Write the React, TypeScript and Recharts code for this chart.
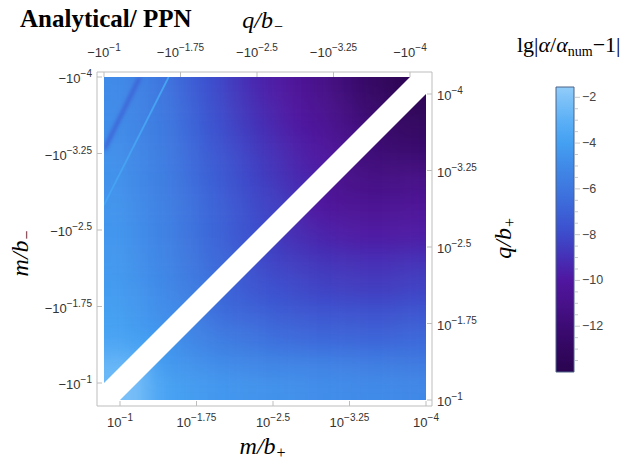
import React from "react";
import { ScatterChart, Scatter, XAxis, YAxis, BarChart, Bar } from "recharts";

// exponents on the four frame axes (labels read as ±10^-e)
const EXP_TICKS = [1, 1.75, 2.5, 3.25, 4];

// lg|α/α_num − 1| on a 12×12 grid for each half.
// upper-left half (q/b− along the top, m/b− up the left): rows from the top, columns from the left edge
const UPPER_ROWS = [
  [-5.0, -5.5, -6.2, -7.2, -8.1, -9.0, -9.7, -10.3, -11.0, -11.9, -12.8, -13.6],
  [-4.9, -5.4, -6.0, -7.0, -7.9, -8.7, -9.4, -10.0, -10.6, -11.4, -12.3],
  [-4.8, -5.3, -5.9, -6.8, -7.7, -8.4, -9.1, -9.7, -10.2, -10.9],
  [-4.7, -5.2, -5.8, -6.6, -7.4, -8.1, -8.8, -9.4, -9.9],
  [-4.6, -5.1, -5.7, -6.4, -7.2, -7.9, -8.5, -9.1],
  [-4.5, -5.0, -5.6, -6.3, -7.0, -7.7, -8.3],
  [-4.4, -4.9, -5.5, -6.2, -6.9, -7.6],
  [-4.3, -4.8, -5.3, -6.0, -6.7],
  [-4.2, -4.6, -5.1, -5.7],
  [-4.0, -4.4, -4.9],
  [-3.6, -4.0],
  [-2.6],
];
// lower-right half (m/b+ along the bottom, q/b+ up the right): rows from the top, columns ending at the right edge
const LOWER_ROWS = [
  [-13.5],
  [-12.6, -12.8],
  [-11.7, -11.9, -12.0],
  [-10.8, -11.1, -11.2, -11.0],
  [-9.9, -10.3, -10.5, -10.5, -10.3],
  [-9.0, -9.4, -9.7, -9.9, -9.9, -9.8],
  [-8.1, -8.5, -8.8, -9.0, -9.1, -9.1, -9.0],
  [-7.2, -7.7, -8.0, -8.3, -8.5, -8.6, -8.6, -8.4],
  [-6.3, -6.8, -7.1, -7.4, -7.6, -7.7, -7.8, -7.8, -7.6],
  [-5.1, -5.6, -6.0, -6.3, -6.6, -6.8, -6.9, -7.0, -7.0, -6.8],
  [-4.2, -4.6, -4.9, -5.1, -5.3, -5.4, -5.5, -5.6, -5.7, -5.8, -5.9],
  [-2.2, -3.6, -4.1, -4.3, -4.5, -4.6, -4.7, -4.8, -4.9, -5.0, -5.0, -5.1],
];

// two thin ridges in the upper-left corner (end points in q, m exponents) and their level
const LIGHT_RIDGE = [{ x: 1, y: 2.745 }, { x: 1.634, y: 4 }];
const LIGHT_RIDGE_LEVEL = -3.9;
const DARK_RIDGE = [{ x: 1, y: 3.284 }, { x: 1.353, y: 4 }];
const DARK_RIDGE_LEVEL = -7.4;

// colour bar
const BAR_RANGE = [-14, -1.55];
const BAR_LABELS = [-12, -10, -8, -6, -4, -2];
const BAR_MINOR = [-13.5, -13, -12.5, -11.5, -11, -10.5, -9.5, -9, -8.5, -7.5, -7, -6.5, -5.5, -5, -4.5, -3.5, -3, -2.5];
const BAR_DATA = [{ name: "lg", range: BAR_RANGE }];

const COLOR_STOPS = [
  { v: -14.0, c: "#2a0450" },
  { v: -13.0, c: "#330760" },
  { v: -12.0, c: "#3d0b74" },
  { v: -11.0, c: "#48118a" },
  { v: -10.0, c: "#5016a0" },
  { v: -9.0, c: "#4530b6" },
  { v: -8.0, c: "#3d4bcb" },
  { v: -7.0, c: "#3c62d7" },
  { v: -6.0, c: "#3e77df" },
  { v: -5.0, c: "#408ae8" },
  { v: -4.0, c: "#44a0f2" },
  { v: -3.0, c: "#5cb0f6" },
  { v: -2.0, c: "#80c3f8" },
  { v: -1.55, c: "#92cdf9" },
];

const W = 629;
const H = 462;
const MARGIN = { top: 71, right: 196, bottom: 55, left: 96 }; // +1px axis boxes → frame 97..432 × 72..406
const PAD_TOP = { left: 7, right: 22 };
const PAD_LEFT = { top: 5, bottom: 23 };
const PAD_BOTTOM = { left: 23, right: 6 };
const PAD_RIGHT = { top: 22, bottom: 6 };
const N = 12;
const STEP = 3 / N;
const HALF_SPAN = W - MARGIN.left - MARGIN.right - 2 - PAD_TOP.left - PAD_TOP.right;
const CELL = HALF_SPAN / N;
const BLEED = 34;

const FRAME = "#bdbdbd";
const TICK_FONT = "'Liberation Sans', Arial, sans-serif";
const SERIF = "'Liberation Serif', 'Times New Roman', serif";

const hexRgb = (h: string) => [1, 3, 5].map((k) => parseInt(h.slice(k, k + 2), 16));

function levelColor(v: number) {
  const s = COLOR_STOPS;
  if (v <= s[0].v) return s[0].c;
  if (v >= s[s.length - 1].v) return s[s.length - 1].c;
  for (let k = 1; k < s.length; k++) {
    if (v <= s[k].v) {
      const t = (v - s[k - 1].v) / (s[k].v - s[k - 1].v);
      const a = hexRgb(s[k - 1].c);
      const b = hexRgb(s[k].c);
      return `rgb(${a.map((c, n) => Math.round(c + (b[n] - c) * t)).join(",")})`;
    }
  }
  return s[s.length - 1].c;
}

const upperCells = UPPER_ROWS.flatMap((row, j) =>
  row.map((val, i) => ({ x: 1 + STEP * (i + 0.5), y: 4 - STEP * (j + 0.5), val, i, j, diag: i + j === N - 1 }))
);
const lowerCells = LOWER_ROWS.flatMap((row, j) =>
  row.map((val, k) => {
    const i = N - 1 - j + k;
    return { x: 1 + STEP * (i + 0.5), y: 4 - STEP * (j + 0.5), val, i, j, diag: k === 0 };
  })
);

function heatCell(half: "up" | "low") {
  return (props: any) => {
    const { cx, cy, payload: p } = props;
    const h = CELL / 2;
    let x0 = cx - h, x1 = cx + h, y0 = cy - h, y1 = cy + h;
    if (half === "up") {
      if (p.i === 0) x0 -= BLEED;
      if (p.j === 0) y0 -= BLEED;
      if (p.diag) { x1 += CELL; y1 += CELL; }
    } else {
      if (p.i === N - 1) x1 += BLEED;
      if (p.j === N - 1) y1 += BLEED;
      if (p.diag) { x0 -= CELL; y0 -= CELL; }
    }
    const rect = <rect x={x0} y={y0} width={x1 - x0} height={y1 - y0} fill={levelColor(p.val)} />;
    const anchor = half === "up" ? p.i === 0 && p.j === 0 : p.i === N - 1 && p.j === N - 1;
    if (!anchor) return rect;
    // the half's triangle, taken from its corner cell
    const ax = half === "up" ? cx - h : cx + h;
    const ay = half === "up" ? cy - h : cy + h;
    const d = half === "up" ? HALF_SPAN : -HALF_SPAN;
    return (
      <g>
        <defs>
          <clipPath id={half === "up" ? "clipUp" : "clipLow"}>
            <polygon points={`${ax},${ay} ${ax + d},${ay} ${ax},${ay + d}`} />
          </clipPath>
        </defs>
        {rect}
      </g>
    );
  };
}

const noDot = () => <g />;

const tickText = { fontFamily: TICK_FONT, fontSize: 13, fill: "#333" };
const SUP = { dy: -6, fontSize: 10 };

// tick marks point into the frame, labels sit outside it
const TopTick = ({ x, y, payload }: any) => (
  <g>
    <line x1={x} x2={x} y1={y} y2={y + 5} stroke={FRAME} />
    <text x={x} y={y - 15} textAnchor="middle" {...tickText}>
      −10<tspan {...SUP}>−{payload.value}</tspan>
    </text>
  </g>
);
const BottomTick = ({ x, y, payload }: any) => (
  <g>
    <line x1={x} x2={x} y1={y} y2={y - 5} stroke={FRAME} />
    <text x={x} y={y + 21} textAnchor="middle" {...tickText}>
      10<tspan {...SUP}>−{payload.value}</tspan>
    </text>
  </g>
);
const LeftTick = ({ x, y, payload }: any) => (
  <g>
    <line x1={x} x2={x + 5} y1={y} y2={y} stroke={FRAME} />
    <text x={x - 5} y={y + 6} textAnchor="end" {...tickText}>
      −10<tspan {...SUP}>−{payload.value}</tspan>
    </text>
  </g>
);
const RightTick = ({ x, y, payload }: any) => (
  <g>
    <line x1={x} x2={x - 5} y1={y} y2={y} stroke={FRAME} />
    <text x={x + 5} y={y + 6} textAnchor="start" {...tickText}>
      10<tspan {...SUP}>−{payload.value}</tspan>
    </text>
  </g>
);

const BarTick = ({ x, y, payload }: any) => {
  const major = BAR_LABELS.includes(payload.value);
  return (
    <g>
      <line x1={x + 1} x2={x + (major ? 6 : 4)} y1={y} y2={y} stroke="#c8c8c8" />
      {major && (
        <text x={x + 8} y={y + 4} fontFamily={TICK_FONT} fontSize={12.5} fill="#444">
          {"−" + Math.abs(payload.value)}
        </text>
      )}
    </g>
  );
};

const axisCommon = {
  type: "number" as const,
  domain: [1, 4],
  ticks: EXP_TICKS,
  interval: 0 as const,
  tickLine: false,
  tickSize: 0,
  tickMargin: 0,
  axisLine: { stroke: FRAME },
};

const css = `
body { margin: 0; }
.heat-up { filter: url(#blurHeat); clip-path: url(#clipUp); }
.heat-low { filter: url(#blurHeat); clip-path: url(#clipLow); }
.ridge-light { filter: url(#blurThin); clip-path: url(#clipUp); }
.ridge-dark { filter: url(#blurWide); clip-path: url(#clipUp); }
`;

export default function App() {
  const barStops = [...COLOR_STOPS].reverse().map((s) => ({
    offset: (BAR_RANGE[1] - s.v) / (BAR_RANGE[1] - BAR_RANGE[0]),
    c: s.c,
  }));

  return (
    <div style={{ position: "relative", width: W, height: H, background: "#fff", overflow: "hidden" }}>
      <style>{css}</style>
      <svg width={0} height={0} style={{ position: "absolute" }}>
        <defs>
          <filter id="blurHeat" x="-20%" y="-20%" width="140%" height="140%" colorInterpolationFilters="sRGB">
            <feGaussianBlur stdDeviation={10} />
          </filter>
          <filter id="blurThin" x="-20%" y="-20%" width="140%" height="140%" colorInterpolationFilters="sRGB">
            <feGaussianBlur stdDeviation={0.7} />
          </filter>
          <filter id="blurWide" x="-20%" y="-20%" width="140%" height="140%" colorInterpolationFilters="sRGB">
            <feGaussianBlur stdDeviation={1.6} />
          </filter>
        </defs>
      </svg>

      <div style={{ position: "absolute", left: 0, top: 0 }}>
        <ScatterChart width={W} height={H} margin={MARGIN}>
          <XAxis xAxisId="top" orientation="top" dataKey="x" height={1} padding={PAD_TOP} tick={(p: any) => <TopTick {...p} />} {...axisCommon} />
          <XAxis xAxisId="bottom" orientation="bottom" dataKey="x" height={1} padding={PAD_BOTTOM} tick={(p: any) => <BottomTick {...p} />} {...axisCommon} />
          <YAxis yAxisId="left" orientation="left" dataKey="y" width={1} padding={PAD_LEFT} tick={(p: any) => <LeftTick {...p} />} {...axisCommon} />
          <YAxis yAxisId="right" orientation="right" dataKey="y" width={1} padding={PAD_RIGHT} tick={(p: any) => <RightTick {...p} />} {...axisCommon} />
          <Scatter className="heat-up" data={upperCells} xAxisId="top" yAxisId="left" shape={heatCell("up")} isAnimationActive={false} />
          <Scatter className="heat-low" data={lowerCells} xAxisId="bottom" yAxisId="right" shape={heatCell("low")} isAnimationActive={false} />
          <Scatter className="ridge-dark" data={DARK_RIDGE} xAxisId="top" yAxisId="left" shape={noDot}
            line={{ stroke: levelColor(DARK_RIDGE_LEVEL), strokeWidth: 3 }} isAnimationActive={false} />
          <Scatter className="ridge-light" data={LIGHT_RIDGE} xAxisId="top" yAxisId="left" shape={noDot}
            line={{ stroke: levelColor(LIGHT_RIDGE_LEVEL), strokeWidth: 1.8 }} isAnimationActive={false} />
        </ScatterChart>
      </div>

      <div style={{ position: "absolute", left: 540, top: 0 }}>
        <BarChart width={89} height={H} data={BAR_DATA} margin={{ top: 87, right: 54, bottom: 90, left: 16 }} barCategoryGap={0}>
          <defs>
            <linearGradient id="barGrad" x1="0" y1="0" x2="0" y2="1">
              {barStops.map((s) => (
                <stop key={s.offset} offset={s.offset} stopColor={s.c} />
              ))}
            </linearGradient>
          </defs>
          <XAxis dataKey="name" hide />
          <YAxis type="number" orientation="right" domain={BAR_RANGE} ticks={[...BAR_MINOR, ...BAR_LABELS].sort((a, b) => a - b)}
            width={1} interval={0} axisLine={false} tickLine={false} tickSize={0} tickMargin={0} tick={(p: any) => <BarTick {...p} />} />
          <Bar dataKey="range" fill="url(#barGrad)" stroke="#4d6288" strokeWidth={1} isAnimationActive={false} />
        </BarChart>
      </div>

      <svg width={W} height={H} style={{ position: "absolute", left: 0, top: 0, pointerEvents: "none" }}>
        <text x={20} y={27} fontFamily={SERIF} fontWeight="bold" fontSize={25} fill="#000">Analytical/ PPN</text>
        <text x={263} y={28} textAnchor="middle" fontFamily={SERIF} fontStyle="italic" fontSize={24} fill="#000">
          q/b<tspan fontSize={16} dy={4}>−</tspan>
        </text>
        <text x={263} y={454} textAnchor="middle" fontFamily={SERIF} fontStyle="italic" fontSize={24} fill="#000">
          m/b<tspan fontSize={16} dy={4}>+</tspan>
        </text>
        <text x={28} y={253} transform="rotate(-90 28 253)" textAnchor="middle" fontFamily={SERIF} fontStyle="italic" fontSize={24} fill="#000">
          m/b<tspan fontSize={16} dy={4}>−</tspan>
        </text>
        <text x={511} y={238} transform="rotate(-90 511 238)" textAnchor="middle" fontFamily={SERIF} fontStyle="italic" fontSize={24} fill="#000">
          q/b<tspan fontSize={16} dy={4}>+</tspan>
        </text>
        <text x={517} y={52} fontFamily={SERIF} fontSize={22} fill="#000">
          lg|<tspan fontStyle="italic">α</tspan>/<tspan fontStyle="italic">α</tspan>
          <tspan fontSize={14} dy={4}>num</tspan>
          <tspan dy={-4}>−1|</tspan>
        </text>
      </svg>
    </div>
  );
}
